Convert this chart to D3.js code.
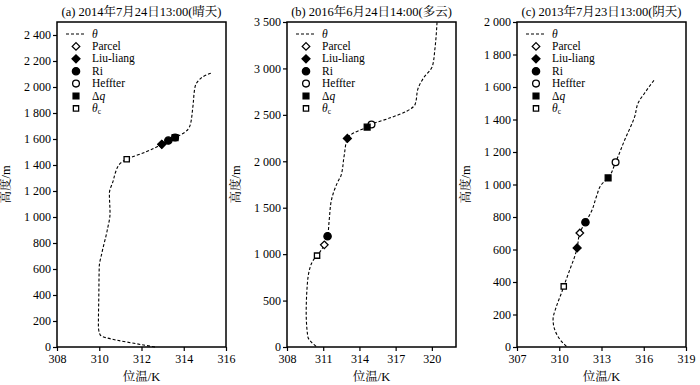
<!DOCTYPE html>
<html><head><meta charset="utf-8">
<script src="https://cdn.jsdelivr.net/npm/d3@7"></script>
<style>
body{margin:0;background:#fff;}
svg{display:block;font-family:"Liberation Serif","Times New Roman",serif;}
.cjk{font-family:"Liberation Serif","Noto Serif CJK SC","Noto Sans CJK SC",serif;}
</style></head>
<body><svg id="c" width="700" height="385"></svg>
<script>
// ---- Data ----
const titles = ["(a) 2014年7月24日13:00(晴天)", "(b) 2016年6月24日14:00(多云)", "(c) 2013年7月23日13:00(阴天)"];
const xDomains = [[308, 316], [308, 322], [307, 319]];
const yDomains = [[0, 2500], [0, 3500], [0, 2000]];
const xTickVals = [[308, 310, 312, 314, 316], [308, 311, 314, 317, 320], [307, 310, 313, 316, 319]];
const yTickVals = [
  [0, 200, 400, 600, 800, 1000, 1200, 1400, 1600, 1800, 2000, 2200, 2400],
  [0, 500, 1000, 1500, 2000, 2500, 3000, 3500],
  [0, 200, 400, 600, 800, 1000, 1200, 1400, 1600, 1800, 2000]
];
// theta profiles: [potential temperature K, height m]
const thetaA = [[312.64,0],[312.0,18],[310.04,94],[309.96,158],[309.98,400],[310.0,618],[310.12,720],[310.38,900],[310.51,1028],[310.48,1181],[310.67,1283],[310.75,1334],[311.02,1416],[311.30,1444],[312.2,1500],[312.96,1559],[313.27,1588],[313.59,1611],[314.07,1654],[314.3,1705],[314.43,1845],[314.54,2004],[314.70,2050],[315.01,2088],[315.28,2106]];
const thetaB = [[310.41,6],[309.72,114],[309.59,367],[309.67,653],[309.94,869],[310.21,941],[310.49,984],[311.09,1100],[311.36,1193],[311.50,1373],[311.69,1588],[312.05,1732],[312.32,1807],[312.46,1840],[312.73,2055],[313.0,2246],[313.55,2307],[314.64,2368],[315.0,2397],[316.56,2468],[317.92,2540],[318.61,2612],[318.88,2793],[319.29,2893],[320.05,3026],[320.25,3206],[320.43,3500]];
const thetaC = [[310.51,4],[310.16,35],[309.68,107],[309.56,168],[309.80,250],[310.16,333],[310.32,373],[310.75,476],[311.10,558],[311.27,610],[311.46,702],[311.86,768],[312.29,835],[312.65,928],[313.0,1000],[313.47,1041],[314.0,1137],[314.66,1277],[315.37,1421],[315.61,1503],[316.08,1565],[316.74,1643]];
const methods = ["Parcel", "Liu-liang", "Ri", "Heffter", "Δq", "θc"];
// PBL heights per method: [theta, height]
const pblA = [[312.96,1559],[312.96,1559],[313.27,1588],[313.59,1611],[313.59,1611],[311.30,1444]];
const pblB = [[311.09,1100],[313.0,2246],[311.36,1193],[315.0,2397],[314.64,2368],[310.49,984]];
const pblC = [[311.46,702],[311.27,610],[311.86,768],[314.0,1137],[313.47,1041],[310.32,373]];

const profiles = [thetaA, thetaB, thetaC];
const pbls = [pblA, pblB, pblC];

// ---- Drawing ----
const svg = d3.select("#c");
const panelLeft = [57, 287, 517];
const panelW = 169;
const plotTop = 22, plotBottom = 347;
const fmt = d3.formatLocale({decimal: ".", thousands: " ", grouping: [3], currency: ["", ""]}).format(",d");

// marker definitions: [shape, filled, size]
const markerStyle = {
  "Parcel": [d3.symbolDiamond2, false, 36],
  "Liu-liang": [d3.symbolDiamond2, true, 40],
  "Ri": [d3.symbolCircle, true, 42],
  "Heffter": [d3.symbolCircle, false, 36],
  "Δq": [d3.symbolSquare, true, 34],
  "θc": [d3.symbolSquare, false, 28]
};
const drawOrder = [0, 3, 1, 2, 4, 5];

for (let p = 0; p < 3; p++) {
  const L = panelLeft[p];
  const x = d3.scaleLinear().domain(xDomains[p]).range([L, L + panelW]);
  const y = d3.scaleLinear().domain(yDomains[p]).range([plotBottom, plotTop]);
  const g = svg.append("g");

  g.append("rect").attr("x", L).attr("y", plotTop).attr("width", panelW).attr("height", plotBottom - plotTop)
    .attr("fill", "none").attr("stroke", "#000").attr("stroke-width", 1.5);

  const xAxis = g.append("g").attr("transform", `translate(0,${plotBottom})`)
    .call(d3.axisBottom(x).tickValues(xTickVals[p]).tickSize(4).tickPadding(3).tickFormat(d3.format("d")));
  const yAxis = g.append("g").attr("transform", `translate(${L},0)`)
    .call(d3.axisLeft(y).tickValues(yTickVals[p]).tickSize(4).tickPadding(2).tickFormat(fmt));
  [xAxis, yAxis].forEach(a => {
    a.select(".domain").remove();
    a.selectAll("line").attr("stroke", "#000").attr("stroke-width", 1.2);
    a.selectAll("text").attr("font-family", "'Liberation Serif',serif").attr("font-size", 12).attr("fill", "#000");
  });

  g.append("text").attr("class", "cjk").attr("x", L + panelW / 2).attr("y", 16).attr("text-anchor", "middle")
    .attr("font-size", 12.5).text(titles[p]);
  g.append("text").attr("class", "cjk").attr("x", L + panelW / 2).attr("y", 381).attr("text-anchor", "middle")
    .attr("font-size", 12.5).text("位温/K");
  g.append("text").attr("class", "cjk").attr("transform", `translate(${L - 47},${(plotTop + plotBottom) / 2}) rotate(-90)`)
    .attr("text-anchor", "middle").attr("font-size", 12.5).text("高度/m");

  const line = d3.line().x(d => x(d[0])).y(d => y(d[1])).curve(d3.curveMonotoneY);
  g.append("path").datum(profiles[p]).attr("d", line).attr("fill", "none")
    .attr("stroke", "#000").attr("stroke-width", 1.1).attr("stroke-dasharray", "3,2");

  drawOrder.forEach(i => {
    const m = methods[i];
    const st = markerStyle[m];
    const d = pbls[p][i];
    g.append("path").attr("d", d3.symbol().type(st[0]).size(st[2])())
      .attr("transform", `translate(${x(d[0])},${y(d[1])})`)
      .attr("fill", st[1] ? "#000" : "#fff").attr("stroke", "#000").attr("stroke-width", 1.3);
  });

  const lg = g.append("g");
  const ly0 = plotTop + 12, rowH = 12.4;
  lg.append("line").attr("x1", L + 9).attr("x2", L + 29).attr("y1", ly0).attr("y2", ly0)
    .attr("stroke", "#000").attr("stroke-width", 1.1).attr("stroke-dasharray", "3,2");
  lg.append("text").attr("x", L + 35).attr("y", ly0 + 3.5).attr("font-size", 11.5).attr("font-style", "italic").text("θ");
  methods.forEach((m, i) => {
    const yy = ly0 + rowH * (i + 1);
    const st = markerStyle[m];
    lg.append("path").attr("d", d3.symbol().type(st[0]).size(st[2])())
      .attr("transform", `translate(${L + 19},${yy})`)
      .attr("fill", st[1] ? "#000" : "#fff").attr("stroke", "#000").attr("stroke-width", 1.3);
    const t = lg.append("text").attr("x", L + 35).attr("y", yy + 3.5).attr("font-size", 11.5);
    if (m === "Δq") {
      t.text("Δ"); t.append("tspan").attr("font-style", "italic").text("q");
    } else if (m === "θc") {
      t.append("tspan").attr("font-style", "italic").text("θ");
      t.append("tspan").attr("font-size", 7.5).attr("dy", 2.5).text("c");
    } else {
      t.text(m);
    }
  });
}
</script></body></html>
